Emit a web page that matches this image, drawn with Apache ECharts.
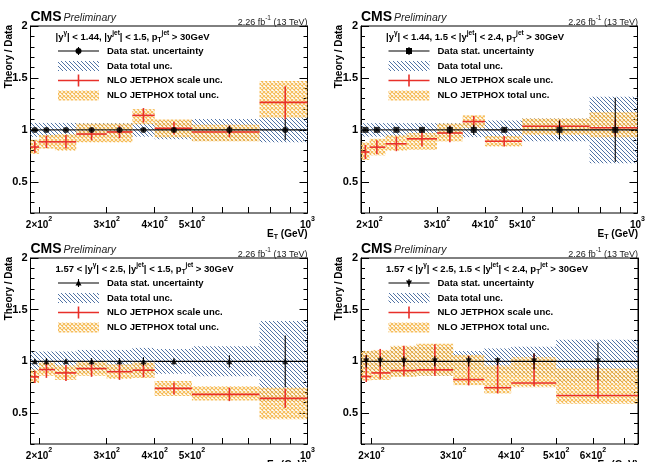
<!DOCTYPE html>
<html>
<head>
<meta charset="utf-8">
<script src="https://cdn.jsdelivr.net/npm/echarts@6.0.0/dist/echarts.min.js"></script>
<style>
  html, body { margin: 0; padding: 0; background: #fff; }
  #chart { width: 648px; height: 462px; }
</style>
</head>
<body>
<div id="chart"></div>
<script>
// bin edges (GeV) and point positions
const edgesWide = [190, 200, 220, 250, 300, 350, 400, 500, 750, 1000];
const edgesFwd = [190, 200, 220, 250, 300, 350, 400, 500, 750];
const ptsWide = [195, 209, 235, 274, 324, 374, 449, 626, 875];
const ptsFwd = [195, 209, 235, 274, 324, 374, 448, 615];
const ratioWide = [1, 1, 1, 1, 1, 1, 1, 1, 1];
const ratioFwd = [1, 1, 1, 1, 1, 1, 1, 1];

// panel 1: |y_gamma| < 1.44, |y_jet| < 1.5
const p1Stat = [0.01, 0.01, 0.01, 0.012, 0.015, 0.015, 0.02, 0.04, 0.1];
const p1DataTot = [0.067, 0.067, 0.067, 0.065, 0.065, 0.065, 0.09, 0.105, 0.12];
const p1Nlo = [0.835, 0.885, 0.885, 0.96, 0.98, 1.14, 1.015, 0.98, 1.265];
const p1ScaleLo = [0.78, 0.825, 0.82, 0.9, 0.92, 1.07, 0.955, 0.93, 1.1];
const p1ScaleHi = [0.89, 0.945, 0.95, 1.02, 1.04, 1.21, 1.075, 1.04, 1.42];
const p1TotLo = [0.77, 0.82, 0.8, 0.88, 0.88, 1.055, 0.93, 0.89, 1.12];
const p1TotHi = [0.905, 0.95, 0.96, 1.06, 1.06, 1.2, 1.1, 1.05, 1.47];

// panel 2: |y_gamma| < 1.44, 1.5 < |y_jet| < 2.4
const p2Stat = [0.01, 0.01, 0.01, 0.01, 0.04, 0.05, 0.02, 0.09, 0.31];
const p2DataTot = [0.065, 0.065, 0.065, 0.065, 0.065, 0.07, 0.09, 0.11, 0.32];
const p2Nlo = [0.787, 0.834, 0.866, 0.914, 0.97, 1.08, 0.89, 1.035, 1.02];
const p2ScaleLo = [0.72, 0.765, 0.795, 0.84, 0.88, 1.025, 0.84, 0.98, 0.94];
const p2ScaleHi = [0.855, 0.9, 0.935, 0.99, 1.04, 1.135, 0.94, 1.09, 1.1];
const p2TotLo = [0.71, 0.755, 0.8, 0.81, 0.89, 1.02, 0.84, 0.95, 0.93];
const p2TotHi = [0.88, 0.915, 0.946, 0.97, 1.06, 1.14, 0.94, 1.11, 1.17];

// panel 3: 1.57 < |y_gamma| < 2.5, |y_jet| < 1.5
const p3Stat = [0.02, 0.03, 0.02, 0.03, 0.03, 0.04, 0.03, 0.06, 0.25];
const p3DataTot = [0.095, 0.095, 0.095, 0.11, 0.11, 0.13, 0.12, 0.145, 0.39];
const p3Nlo = [0.85, 0.92, 0.888, 0.93, 0.9, 0.914, 0.738, 0.68, 0.642];
const p3ScaleLo = [0.79, 0.84, 0.81, 0.85, 0.82, 0.845, 0.68, 0.615, 0.55];
const p3ScaleHi = [0.91, 1.0, 0.965, 1.01, 0.98, 0.98, 0.795, 0.745, 0.735];
const p3TotLo = [0.79, 0.86, 0.82, 0.86, 0.83, 0.84, 0.665, 0.62, 0.44];
const p3TotHi = [0.92, 0.99, 0.96, 1.0, 0.97, 0.99, 0.81, 0.76, 0.745];

// panel 4: 1.57 < |y_gamma| < 2.5, 1.5 < |y_jet| < 2.4
const p4Stat = [0.06, 0.05, 0.05, 0.05, 0.05, 0.04, 0.08, 0.18];
const p4DataTot = [0.1, 0.1, 0.14, 0.14, 0.1, 0.125, 0.14, 0.21];
const p4Nlo = [0.853, 0.888, 0.91, 0.917, 0.824, 0.745, 0.79, 0.67];
const p4ScaleLo = [0.8, 0.83, 0.86, 0.86, 0.767, 0.69, 0.76, 0.64];
const p4ScaleHi = [1.06, 1.12, 1.15, 1.166, 1.054, 1.02, 1.07, 0.97];
const p4TotLo = [0.815, 0.82, 0.85, 0.86, 0.77, 0.69, 0.75, 0.59];
const p4TotHi = [1.1, 1.11, 1.15, 1.17, 1.06, 0.96, 1.04, 0.93];

// axis ticks
const xTicksWide = [200, 300, 400, 500, 600, 700, 800, 900, 1000];
const xLabelsWide = [200, 300, 400, 500, 1000];
const xTicksFwd = [200, 300, 400, 500, 600, 700];
const xLabelsFwd = [200, 300, 400, 500, 600];
const yMajor = [0.5, 1, 1.5, 2];
const yMinor = [0.2, 0.3, 0.4, 0.5, 0.6, 0.7, 0.8, 0.9, 1, 1.1, 1.2, 1.3, 1.4, 1.5, 1.6, 1.7, 1.8, 1.9, 2];

const RED = '#e8302a';
const FONT = 'Liberation Sans, Arial, sans-serif';

function hatchCanvas() {
  const c = document.createElement('canvas');
  c.width = 4; c.height = 4;
  const g = c.getContext('2d');
  g.strokeStyle = '#5274a6';
  g.lineWidth = 1;
  g.beginPath();
  for (let k = -4; k <= 4; k += 4) { g.moveTo(k, 0); g.lineTo(k + 4, 4); }
  g.stroke();
  return c;
}
function crossCanvas() {
  const c = document.createElement('canvas');
  c.width = 4; c.height = 4;
  const g = c.getContext('2d');
  g.strokeStyle = 'rgba(243,176,58,0.85)';
  g.lineWidth = 1.1;
  g.beginPath();
  for (let k = -4; k <= 4; k += 4) {
    g.moveTo(k, 0); g.lineTo(k + 4, 4);
    g.moveTo(k, 4); g.lineTo(k + 4, 0);
  }
  g.stroke();
  return c;
}
const blueFill = { image: hatchCanvas(), repeat: 'repeat' };
const orangeFill = { image: crossCanvas(), repeat: 'repeat' };

const panels = [
  { left: 30.5, top: 26, w: 277, h: 187, edges: edgesWide, pts: ptsWide, ratio: ratioWide,
    stat: p1Stat, dataTot: p1DataTot, nlo: p1Nlo, sLo: p1ScaleLo, sHi: p1ScaleHi, tLo: p1TotLo, tHi: p1TotHi,
    xMax: 1000, ticks: xTicksWide, labels: xLabelsWide, marker: 'circle', msize: 6,
    header: '{b||y}{s|γ}{b|| < 1.44, |y}{s|jet}{b|| < 1.5, p}{u|T}{s|jet}{b| > 30GeV}' },
  { left: 361, top: 26, w: 277, h: 187, edges: edgesWide, pts: ptsWide, ratio: ratioWide,
    stat: p2Stat, dataTot: p2DataTot, nlo: p2Nlo, sLo: p2ScaleLo, sHi: p2ScaleHi, tLo: p2TotLo, tHi: p2TotHi,
    xMax: 1000, ticks: xTicksWide, labels: xLabelsWide, marker: 'rect', msize: 6,
    header: '{b||y}{s|γ}{b|| < 1.44, 1.5 < |y}{s|jet}{b|| < 2.4, p}{u|T}{s|jet}{b| > 30GeV}' },
  { left: 30.5, top: 258, w: 277, h: 186, edges: edgesWide, pts: ptsWide, ratio: ratioWide,
    stat: p3Stat, dataTot: p3DataTot, nlo: p3Nlo, sLo: p3ScaleLo, sHi: p3ScaleHi, tLo: p3TotLo, tHi: p3TotHi,
    xMax: 1000, ticks: xTicksWide, labels: xLabelsWide, marker: 'triangle', msize: 6,
    header: '{b|1.57 < |y}{s|γ}{b|| < 2.5, |y}{s|jet}{b|| < 1.5, p}{u|T}{s|jet}{b| > 30GeV}' },
  { left: 361, top: 258, w: 277, h: 186, edges: edgesFwd, pts: ptsFwd, ratio: ratioFwd,
    stat: p4Stat, dataTot: p4DataTot, nlo: p4Nlo, sLo: p4ScaleLo, sHi: p4ScaleHi, tLo: p4TotLo, tHi: p4TotHi,
    xMax: 750, ticks: xTicksFwd, labels: xLabelsFwd, marker: 'path://M0,0L10,0L5,9Z', msize: 6,
    header: '{b|1.57 < |y}{s|γ}{b|| < 2.5, 1.5 < |y}{s|jet}{b|| < 2.4, p}{u|T}{s|jet}{b| > 30GeV}' }
];

const headerRich = {
  b: { fontSize: 9.5, fontWeight: 'bold', fontFamily: FONT, lineHeight: 14, verticalAlign: 'middle' },
  s: { fontSize: 6.5, fontWeight: 'bold', fontFamily: FONT, verticalAlign: 'top', lineHeight: 14 },
  u: { fontSize: 6.5, fontWeight: 'bold', fontFamily: FONT, verticalAlign: 'bottom', lineHeight: 14 }
};
const tickRich = {
  n: { fontSize: 10, fontWeight: 'bold', fontFamily: FONT, color: '#000', lineHeight: 14, verticalAlign: 'bottom' },
  e: { fontSize: 7, fontWeight: 'bold', fontFamily: FONT, color: '#000', lineHeight: 14, verticalAlign: 'top' }
};
function tickLabel(v) {
  const e = Math.round(Math.pow(10, v));
  if (e === 1000) return '{n|10}{e|3}';
  return '{n|' + (e / 100) + '×10}{e|2}';
}

function boxSeries(g, p, lo, hi, fill, z) {
  return {
    type: 'custom', xAxisIndex: 2 * g, yAxisIndex: 4 * g, z: z, clip: true, silent: true,
    data: lo.map((l, i) => [p.edges[i], p.edges[i + 1], l, hi[i]]),
    encode: { x: [0, 1], y: [2, 3] },
    renderItem: (params, api) => {
      const a = api.coord([api.value(0), api.value(3)]);
      const b = api.coord([api.value(1), api.value(2)]);
      return { type: 'rect', shape: { x: a[0], y: a[1], width: b[0] - a[0], height: b[1] - a[1] },
        style: { fill: fill, stroke: null } };
    }
  };
}
function crossSeries(g, p, y, lo, hi, color, lw, z) {
  return {
    type: 'custom', xAxisIndex: 2 * g, yAxisIndex: 4 * g, z: z, clip: true, silent: true,
    data: y.map((v, i) => [p.edges[i], p.edges[i + 1], p.pts[i], v, lo[i], hi[i]]),
    encode: { x: [0, 1, 2], y: [3, 4, 5] },
    renderItem: (params, api) => {
      const a = api.coord([api.value(0), api.value(3)]);
      const b = api.coord([api.value(1), api.value(3)]);
      const c = api.coord([api.value(2), api.value(4)]);
      const d = api.coord([api.value(2), api.value(5)]);
      const st = { stroke: color, lineWidth: lw };
      return { type: 'group', children: [
        { type: 'line', shape: { x1: a[0], y1: a[1], x2: b[0], y2: b[1] }, style: st },
        { type: 'line', shape: { x1: c[0], y1: c[1], x2: d[0], y2: d[1] }, style: st }
      ] };
    }
  };
}

const grid = [], xAxis = [], yAxis = [], series = [], graphic = [];
panels.forEach((p, g) => {
  grid.push({ left: p.left, top: p.top, width: p.w, height: p.h, show: true,
    borderColor: '#000', borderWidth: 1, backgroundColor: 'transparent' });
  xAxis.push({ type: 'log', gridIndex: g, position: 'bottom', min: 190, max: p.xMax, logBase: 10,
    axisLine: { show: false }, axisTick: { show: false }, axisLabel: { show: false }, splitLine: { show: false } });
  xAxis.push({ type: 'value', gridIndex: g, position: 'bottom', min: Math.log10(190), max: Math.log10(p.xMax),
    axisLine: { show: false }, splitLine: { show: false },
    axisTick: { show: true, inside: true, length: 6, lineStyle: { color: '#000' }, customValues: p.ticks.map(Math.log10) },
    axisLabel: { show: true, margin: 3, customValues: p.labels.map(Math.log10), formatter: tickLabel, rich: tickRich } });
  ['left', 'right'].forEach(pos => {
    yAxis.push({ type: 'value', gridIndex: g, position: pos, min: 0.2, max: 2,
      axisLine: { show: true, lineStyle: { color: '#000' } }, splitLine: { show: false },
      axisTick: { show: true, inside: true, length: 8, lineStyle: { color: '#000' }, customValues: yMajor },
      axisLabel: { show: pos === 'left', margin: 3, customValues: yMajor, fontSize: 11, fontWeight: 'bold',
        fontFamily: FONT, color: '#000', formatter: v => String(v) } });
    yAxis.push({ type: 'value', gridIndex: g, position: pos, min: 0.2, max: 2,
      axisLine: { show: false }, splitLine: { show: false }, axisLabel: { show: false },
      axisTick: { show: true, inside: true, length: 4, lineStyle: { color: '#000' }, customValues: yMinor } });
  });

  series.push(boxSeries(g, p, p.dataTot.map(e => 1 - e), p.dataTot.map(e => 1 + e), blueFill, 1));
  series.push(boxSeries(g, p, p.tLo, p.tHi, orangeFill, 2));
  series.push(crossSeries(g, p, p.nlo, p.sLo, p.sHi, RED, 1.6, 3));
  series.push(crossSeries(g, p, p.ratio, p.ratio.map((r, i) => r - p.stat[i]), p.ratio.map((r, i) => r + p.stat[i]), '#000', 1.1, 4));
  series.push({ type: 'scatter', xAxisIndex: 2 * g, yAxisIndex: 4 * g, z: 5, silent: true,
    symbol: p.marker, symbolSize: p.msize, itemStyle: { color: '#000' },
    data: p.pts.map((x, i) => [x, p.ratio[i]]) });

  const L = p.left, T = p.top;
  graphic.push(
    { type: 'text', x: L, y: T - 1.5, style: { text: 'CMS', font: 'bold 14px ' + FONT, fill: '#000', textVerticalAlign: 'bottom' } },
    { type: 'text', x: L + 33, y: T - 2, style: { text: 'Preliminary', font: 'italic 10.5px ' + FONT, fill: '#222', textVerticalAlign: 'bottom' } },
    { type: 'text', x: L + p.w, y: T - 5, style: { text: '{a|2.26 fb}{s|-1}{a| (13 TeV)}', textAlign: 'right', textVerticalAlign: 'middle',
      rich: { a: { fontSize: 9, fontFamily: FONT, fill: '#222', lineHeight: 12, verticalAlign: 'bottom' },
              s: { fontSize: 6.5, fontFamily: FONT, fill: '#222', lineHeight: 12, verticalAlign: 'top' } } } },
    { type: 'text', x: L - 21.5, y: T - 1, rotation: Math.PI / 2,
      style: { text: 'Theory / Data', font: 'bold 10px ' + FONT, fill: '#000', textAlign: 'right', textVerticalAlign: 'middle' } },
    { type: 'text', x: L + p.w, y: T + p.h + 21, style: { text: '{b|E}{u|T}{b| (GeV)}', textAlign: 'right', textVerticalAlign: 'middle',
      rich: { b: { fontSize: 10, fontWeight: 'bold', fontFamily: FONT, lineHeight: 14, verticalAlign: 'middle' },
              u: { fontSize: 7, fontWeight: 'bold', fontFamily: FONT, lineHeight: 14, verticalAlign: 'bottom' } } } },
    { type: 'text', x: L + 25, y: T + 11, style: { text: p.header, rich: headerRich, textVerticalAlign: 'middle' } }
  );

  // legend
  const sx0 = L + 27.5, sx1 = L + 68.5, sxm = (sx0 + sx1) / 2, tx = L + 76.5;
  const rows = [T + 25, T + 40, T + 54.5, T + 69.5];
  const names = ['Data stat. uncertainty', 'Data total unc.', 'NLO JETPHOX scale unc.', 'NLO JETPHOX total unc.'];
  names.forEach((n, k) => graphic.push({ type: 'text', x: tx, y: rows[k],
    style: { text: n, font: 'bold 9.5px ' + FONT, fill: '#000', textVerticalAlign: 'middle' } }));
  let mk;
  if (g === 0) mk = { type: 'circle', shape: { cx: sxm, cy: rows[0], r: 3 }, style: { fill: '#000' } };
  else if (g === 1) mk = { type: 'rect', shape: { x: sxm - 3, y: rows[0] - 3, width: 6, height: 6 }, style: { fill: '#000' } };
  else if (g === 2) mk = { type: 'polygon', shape: { points: [[sxm - 3, rows[0] + 2.5], [sxm + 3, rows[0] + 2.5], [sxm, rows[0] - 3]] }, style: { fill: '#000' } };
  else mk = { type: 'polygon', shape: { points: [[sxm - 3, rows[0] - 2.5], [sxm + 3, rows[0] - 2.5], [sxm, rows[0] + 3]] }, style: { fill: '#000' } };
  graphic.push(
    { type: 'line', shape: { x1: sx0, y1: rows[0], x2: sx1, y2: rows[0] }, style: { stroke: '#000', lineWidth: 1.1 } },
    { type: 'line', shape: { x1: sxm, y1: rows[0] - 4, x2: sxm, y2: rows[0] + 4 }, style: { stroke: '#000', lineWidth: 1.1 } },
    mk,
    { type: 'rect', shape: { x: sx0, y: rows[1] - 5, width: sx1 - sx0, height: 10 }, style: { fill: blueFill } },
    { type: 'line', shape: { x1: sx0, y1: rows[2], x2: sx1, y2: rows[2] }, style: { stroke: RED, lineWidth: 1.6 } },
    { type: 'line', shape: { x1: sxm, y1: rows[2] - 6, x2: sxm, y2: rows[2] + 6 }, style: { stroke: RED, lineWidth: 1.6 } },
    { type: 'rect', shape: { x: sx0, y: rows[3] - 5, width: sx1 - sx0, height: 10 }, style: { fill: orangeFill } }
  );
});

const chart = echarts.init(document.getElementById('chart'), null, { renderer: 'canvas' });
chart.setOption({
  animation: false,
  backgroundColor: '#fff',
  grid: grid,
  xAxis: xAxis,
  yAxis: yAxis,
  series: series,
  graphic: graphic
});
</script>
</body>
</html>
